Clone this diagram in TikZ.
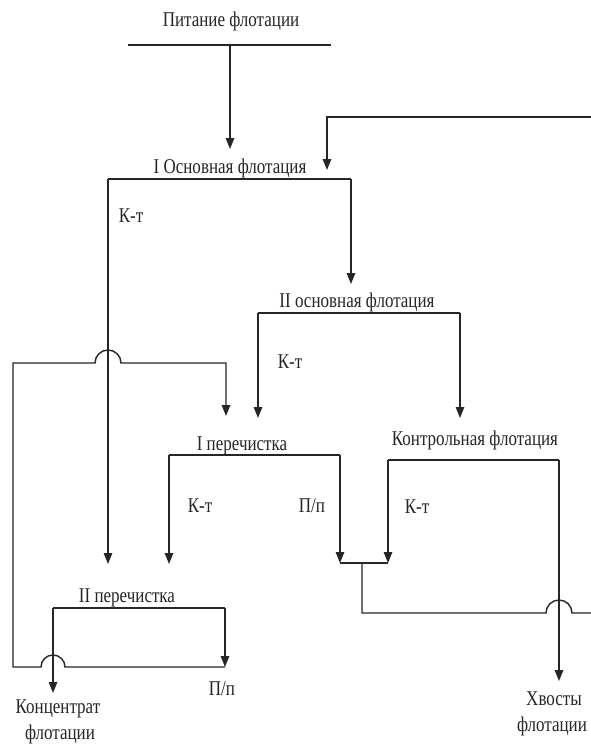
\documentclass[tikz,border=0pt]{standalone}
\usepackage{fontspec}
\usepackage{graphicx}
\setmainfont{Liberation Serif}
\usetikzlibrary{arrows.meta}
\newcommand{\nrw}[1]{\scalebox{0.81}[1]{#1}}
\begin{document}
\begin{tikzpicture}[x=1pt,y=-1pt,
  flow/.style={draw=black!85, line width=1.4pt, line join=miter},
  arr/.style={flow, -{Triangle[length=11pt,width=8.5pt]}},
  lbl/.style={font=\fontsize{21}{25}\selectfont, inner sep=0pt, text=black!85, anchor=base, align=center}]
\useasboundingbox[fill=white] (0,0) rectangle (590,744);

% labels (base anchors)
\node[lbl] (pit)   at (231,26)  {\nrw{Питание флотации}};
\node[lbl] (osn1)  at (230,173) {\nrw{I Основная флотация}};
\node[lbl] (kt1)   at (131,222) {\nrw{К-т}};
\node[lbl] (osn2)  at (357,307) {\nrw{II основная флотация}};
\node[lbl] (kt2)   at (290,368) {\nrw{К-т}};
\node[lbl] (per1)  at (242,450) {\nrw{I перечистка}};
\node[lbl] (kontr) at (475,445) {\nrw{Контрольная флотация}};
\node[lbl] (kt3)   at (200,512) {\nrw{К-т}};
\node[lbl] (pp1)   at (312,512) {\nrw{П/п}};
\node[lbl] (kt4)   at (417,513) {\nrw{К-т}};
\node[lbl] (per2)  at (127,602) {\nrw{II перечистка}};
\node[lbl] (pp2)   at (222,695) {\nrw{П/п}};
\node[lbl] (konc1) at (58,713)  {\nrw{Концентрат}};
\node[lbl] (konc2) at (60,739)  {\nrw{флотации}};
\node[lbl] (hv1)   at (554,705) {\nrw{Хвосты}};
\node[lbl] (hv2)   at (552,731) {\nrw{флотации}};

% coordinates
\coordinate (feedL) at (128,45);
\coordinate (feedR) at (331,45);
\coordinate (feedM) at (230,45);
\coordinate (o1in)  at (230,149);
\coordinate (rcR)   at (591,117);
\coordinate (rcC)   at (327,117);
\coordinate (rcIn)  at (327,170);
\coordinate (o1L)   at (108,179);
\coordinate (o1R)   at (351,179);
\coordinate (o1Lend) at (108,564);
\coordinate (o2in)  at (351,284);
\coordinate (o2L)   at (258,313);
\coordinate (o2R)   at (460,313);
\coordinate (p1inA) at (258,418);
\coordinate (kin)   at (460,418);
\coordinate (p1L)   at (169,455);
\coordinate (p1R)   at (340,455);
\coordinate (p2inB) at (169,564);
\coordinate (jL)    at (340,563);
\coordinate (jR)    at (388,563);
\coordinate (jM)    at (362,563);
\coordinate (jB)    at (362,613);
\coordinate (tailR) at (591,613);
\coordinate (kL)    at (388,460);
\coordinate (kR)    at (559,460);
\coordinate (hvEnd) at (559,681);
\coordinate (p2L)   at (53,608);
\coordinate (p2R)   at (225,608);
\coordinate (p2Rend) at (225,667);
\coordinate (loopBL) at (13,667);
\coordinate (loopTL) at (13,363);
\coordinate (loopTR) at (226,363);
\coordinate (p1inB) at (226,416);
\coordinate (koncEnd) at (53,693);

% feed
\draw[flow] (feedL) -- (feedR);
\draw[arr] (feedM) -- (o1in);
% recycle from right
\draw[arr] (rcR) -- (rcC) -- (rcIn);
% I osnovnaya
\draw[flow] (o1L) -- (o1R);
\draw[arr] (o1L) -- (o1Lend);
\draw[arr] (o1R) -- (o2in);
% II osnovnaya
\draw[flow] (o2L) -- (o2R);
\draw[arr] (o2L) -- (p1inA);
\draw[arr] (o2R) -- (kin);
% I perechistka
\draw[flow] (p1L) -- (p1R);
\draw[arr] (p1L) -- (p2inB);
\draw[arr] (p1R) -- (jL);
% kontrolnaya
\draw[flow] (kL) -- (kR);
\draw[arr] (kL) -- (jR);
\draw[arr] (kR) -- (hvEnd);
% junction to right
\draw[flow] (jL) -- (jR);
\draw[flow] (jM) -- (jB) -- ([xshift=-13pt]kR |- jB) arc[start angle=180,end angle=0,radius=13pt] -- (tailR);
% II perechistka
\draw[flow] (p2L) -- (p2R);
\draw[arr] (p2R) -- (p2Rend);
\draw[arr] (p2L) -- (koncEnd);
% recycle loop to I perechistka
\draw[arr] (p2Rend) -- ([xshift=12pt]p2L |- p2Rend) arc[start angle=0,end angle=180,radius=12pt]
  -- (loopBL) -- (loopTL) -- ([xshift=-13pt]o1L |- loopTL) arc[start angle=180,end angle=0,radius=13pt]
  -- (loopTR) -- (p1inB);
\end{tikzpicture}
\end{document}
